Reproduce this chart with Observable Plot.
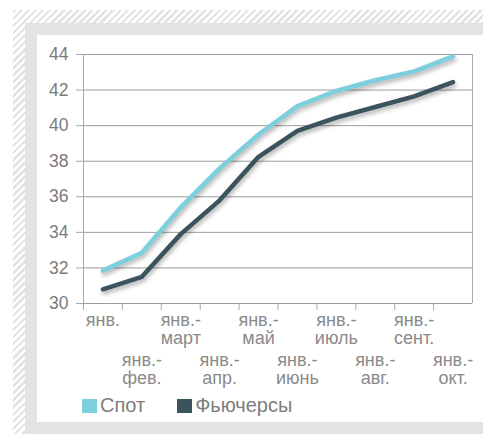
<!DOCTYPE html>
<html>
<head>
<meta charset="utf-8">
<script src="https://cdn.jsdelivr.net/npm/d3@7"></script>
<script src="https://cdn.jsdelivr.net/npm/@observablehq/plot@0.6"></script>
<style>
  html, body { margin: 0; padding: 0; background: #fff; }
  #wrap { position: relative; width: 483px; height: 434px; overflow: hidden; font-family: "Liberation Sans", Arial, sans-serif; }
  #hatch { position: absolute; left: 13px; top: 10px; width: 500px; height: 440px;
    background: repeating-linear-gradient(135deg, #e4e4e4 0px, #e4e4e4 2.5px, #ffffff 2.5px, #ffffff 5px); }
  #gray { position: absolute; left: 25px; top: 23px; width: 500px; height: 440px; background: #e3e3e3; }
  #white { position: absolute; left: 37px; top: 35px; width: 500px; height: 387px; background: #ffffff; }
  #chart { position: absolute; left: 0; top: 0; }
  #chart svg g[aria-label="line"] { filter: drop-shadow(1px 3px 2px rgba(0,0,0,0.30)); }
  #legend { position: absolute; left: 82px; top: 394px; font-size: 20px; color: #7d7d7d; display: flex; align-items: center; }
  #legend .item { display: flex; align-items: center; margin-right: 32px; }
  #legend .sw { width: 15px; height: 14px; margin-right: 3px; }
</style>
</head>
<body>
<div id="wrap">
  <div id="hatch"></div>
  <div id="gray"></div>
  <div id="white"></div>
  <div id="chart"></div>
  <div id="legend"></div>
</div>
<script>
const categories = ["янв.", "янв.-фев.", "янв.-март", "янв.-апр.", "янв.-май", "янв.-июнь", "янв.-июль", "янв.-авг.", "янв.-сент.", "янв.-окт."];
const spot = [31.85, 32.85, 35.4, 37.6, 39.5, 41.1, 41.95, 42.55, 43.05, 43.9];
const futures = [30.8, 31.5, 33.9, 35.8, 38.25, 39.7, 40.45, 41.05, 41.65, 42.45];
const yTicks = [30, 32, 34, 36, 38, 40, 42, 44];
const seriesNames = ["Спот", "Фьючерсы"];
const seriesColors = ["#7ccfdd", "#3b535d"];

const table = categories.map((c, i) => ({
  i,
  label: c.replace("-", "-\n"),
  spot: spot[i],
  futures: futures[i]
}));
const boundaries = categories.map((c, i) => i - 0.5);

const chart = Plot.plot({
  width: 483,
  height: 434,
  marginLeft: 83,
  marginRight: 11,
  marginTop: 54,
  marginBottom: 131,
  x: { domain: [-0.5, categories.length - 0.5], axis: null, label: null },
  y: { domain: [30, 44], axis: null, label: null },
  style: { background: "transparent", fontFamily: "Liberation Sans, Arial, sans-serif", fontSize: "17px", overflow: "visible" },
  marks: [
    Plot.gridY(yTicks, { stroke: "#9d9d9d", strokeOpacity: 1 }),
    Plot.axisY({ ticks: yTicks, tickSize: 7, tickPadding: 8, stroke: "#a8a8a8", fill: "#7a7a7a", fontSize: 17.5, label: null }),
    Plot.axisX({ ticks: boundaries, tickSize: 7, tickFormat: () => "", stroke: "#aaaaaa", label: null }),
    Plot.ruleX([-0.5, categories.length - 0.5], { y1: 30, y2: 44, stroke: "#aaaaaa" }),
    Plot.ruleY([30], { x1: -0.5, x2: categories.length - 0.5, stroke: "#9d9d9d" }),
    Plot.text(table.filter(d => d.i % 2 === 0), { x: "i", text: "label", frameAnchor: "bottom", lineAnchor: "top", dy: 9, lineHeight: 1.03, fill: "#8a8a8a", fontSize: 18 }),
    Plot.text(table.filter(d => d.i % 2 === 1), { x: "i", text: "label", frameAnchor: "bottom", lineAnchor: "top", dy: 49, lineHeight: 1.03, fill: "#8a8a8a", fontSize: 18 }),
    Plot.line(table, { x: "i", y: "futures", stroke: seriesColors[1], strokeWidth: 4.5, strokeLinecap: "round", strokeLinejoin: "round" }),
    Plot.line(table, { x: "i", y: "spot", stroke: seriesColors[0], strokeWidth: 4.5, strokeLinecap: "round", strokeLinejoin: "round" })
  ]
});
document.getElementById("chart").appendChild(chart);

const legend = document.getElementById("legend");
seriesNames.forEach((name, k) => {
  const item = document.createElement("div");
  item.className = "item";
  const sw = document.createElement("div");
  sw.className = "sw";
  sw.style.background = seriesColors[k];
  const t = document.createElement("span");
  t.textContent = name;
  item.appendChild(sw);
  item.appendChild(t);
  legend.appendChild(item);
});
</script>
</body>
</html>
